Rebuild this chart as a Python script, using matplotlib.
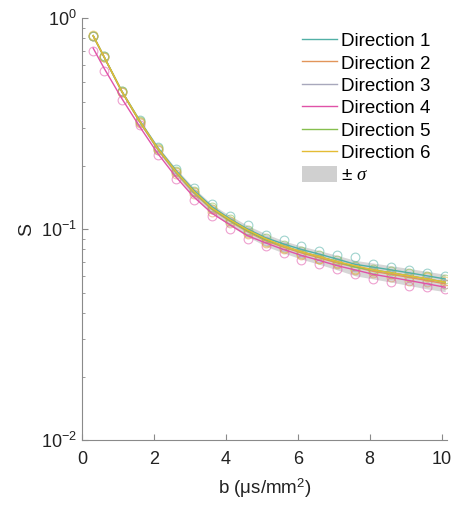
import matplotlib
matplotlib.use("Agg")
import matplotlib.pyplot as plt
from matplotlib.patches import Patch
from matplotlib.lines import Line2D
from matplotlib.ticker import LogLocator, NullFormatter

plt.rcParams["font.family"] = ["Liberation Sans", "DejaVu Sans"]
plt.rcParams["mathtext.fontset"] = "custom"
plt.rcParams["mathtext.rm"] = "Liberation Sans"
plt.rcParams["mathtext.it"] = "Liberation Serif:italic"

# b values (us/mm^2)
b = [0.3, 0.6, 1.1, 1.6, 2.1, 2.6, 3.1, 3.6, 4.1, 4.6, 5.1,
     5.6, 6.1, 6.6, 7.1, 7.6, 8.1, 8.6, 9.1, 9.6, 10.1]

# fitted curves per direction
fit1 = [0.826, 0.658, 0.450, 0.326, 0.243, 0.190, 0.153, 0.128, 0.112, 0.100, 0.091,
        0.085, 0.080, 0.076, 0.072, 0.068, 0.066, 0.064, 0.062, 0.060, 0.058]
fit2 = [0.822, 0.654, 0.446, 0.321, 0.238, 0.185, 0.148, 0.124, 0.109, 0.097, 0.088,
        0.082, 0.077, 0.073, 0.069, 0.066, 0.063, 0.061, 0.059, 0.057, 0.055]
fit3 = [0.824, 0.655, 0.447, 0.322, 0.239, 0.186, 0.149, 0.125, 0.110, 0.098, 0.089,
        0.083, 0.078, 0.074, 0.070, 0.066, 0.064, 0.062, 0.060, 0.058, 0.056]
fit4 = [0.720, 0.580, 0.415, 0.305, 0.228, 0.177, 0.142, 0.119, 0.105, 0.093, 0.086,
        0.080, 0.075, 0.071, 0.067, 0.064, 0.061, 0.059, 0.057, 0.055, 0.053]
fit5 = [0.824, 0.656, 0.448, 0.323, 0.240, 0.187, 0.150, 0.125, 0.110, 0.098, 0.089,
        0.083, 0.078, 0.074, 0.070, 0.066, 0.064, 0.062, 0.060, 0.058, 0.056]
fit6 = [0.826, 0.657, 0.449, 0.324, 0.241, 0.188, 0.151, 0.126, 0.111, 0.099, 0.090,
        0.083, 0.078, 0.074, 0.070, 0.067, 0.064, 0.062, 0.060, 0.058, 0.056]

# measured signal per direction
sig1 = [0.818, 0.662, 0.452, 0.330, 0.246, 0.192, 0.156, 0.131, 0.115, 0.104, 0.094,
        0.089, 0.083, 0.079, 0.075, 0.074, 0.068, 0.066, 0.064, 0.062, 0.060]
sig2 = [0.826, 0.650, 0.444, 0.318, 0.236, 0.183, 0.146, 0.121, 0.107, 0.095, 0.086,
        0.080, 0.075, 0.072, 0.068, 0.064, 0.062, 0.059, 0.057, 0.056, 0.055]
sig3 = [0.820, 0.654, 0.446, 0.322, 0.238, 0.186, 0.149, 0.124, 0.108, 0.097, 0.088,
        0.082, 0.077, 0.073, 0.069, 0.066, 0.063, 0.061, 0.059, 0.057, 0.055]
sig4 = [0.700, 0.560, 0.410, 0.310, 0.225, 0.172, 0.138, 0.115, 0.100, 0.090, 0.083,
        0.077, 0.071, 0.068, 0.065, 0.061, 0.058, 0.056, 0.054, 0.053, 0.052]
sig5 = [0.825, 0.658, 0.450, 0.325, 0.242, 0.189, 0.151, 0.127, 0.111, 0.099, 0.091,
        0.084, 0.079, 0.075, 0.071, 0.067, 0.065, 0.063, 0.062, 0.060, 0.058]
sig6 = [0.830, 0.655, 0.447, 0.321, 0.239, 0.186, 0.149, 0.124, 0.109, 0.096, 0.087,
        0.081, 0.076, 0.072, 0.069, 0.065, 0.063, 0.061, 0.059, 0.059, 0.057]

# +/- sigma band
band_lo = [0.812, 0.645, 0.439, 0.315, 0.233, 0.180, 0.143, 0.119, 0.104, 0.092, 0.083,
           0.077, 0.072, 0.068, 0.064, 0.060, 0.058, 0.056, 0.054, 0.052, 0.0505]
band_hi = [0.835, 0.666, 0.456, 0.330, 0.247, 0.194, 0.157, 0.131, 0.116, 0.104, 0.095,
           0.088, 0.083, 0.079, 0.075, 0.071, 0.069, 0.067, 0.065, 0.063, 0.061]

labels = ["Direction 1", "Direction 2", "Direction 3",
          "Direction 4", "Direction 5", "Direction 6"]
fits = [fit1, fit2, fit3, fit4, fit5, fit6]
sigs = [sig1, sig2, sig3, sig4, sig5, sig6]
colors = ["#52b0a6", "#e2955a", "#a8a8bc", "#e052a8", "#86bf4e", "#e4bc34"]

fig = plt.figure(figsize=(4.68, 5.07), dpi=100)
ax = fig.add_axes([0.176, 0.132, 0.779, 0.8325])

ax.fill_between(b, band_lo, band_hi, color="#d6d6d6", lw=0, zorder=1)
for s, c in zip(sigs, colors):
    ax.plot(b, s, "o", ms=6.3, mfc="none", mec=c, mew=0.8, alpha=0.55, zorder=2)
for f, c in zip(fits, colors):
    ax.plot(b, f, "-", color=c, lw=1.0, zorder=3)

ax.set_yscale("log")
ax.set_xlim(0, 10.15)
ax.set_ylim(1e-2, 1)
ax.set_xticks([0, 2, 4, 6, 8, 10])
ax.yaxis.set_major_locator(LogLocator(base=10, numticks=5))
ax.yaxis.set_minor_locator(LogLocator(base=10, subs=range(2, 10), numticks=20))
ax.yaxis.set_minor_formatter(NullFormatter())

for side in ["top", "right"]:
    ax.spines[side].set_visible(False)
for side in ["left", "bottom"]:
    ax.spines[side].set_color("#8a8a8a")
    ax.spines[side].set_linewidth(0.8)
ax.tick_params(which="both", direction="in", color="#8a8a8a", labelsize=13,
               labelcolor="#222222")
ax.tick_params(which="major", length=4)
ax.tick_params(which="minor", length=2.5)
ax.tick_params(axis="x", pad=8)
ax.tick_params(axis="y", pad=4)

ax.set_xlabel("b (μs/mm$^2$)", fontsize=13.5, color="#222222", labelpad=6)
ax.set_ylabel("S", fontsize=14, color="#222222", labelpad=4)

handles = [Line2D([0], [0], color=c, lw=1.0) for c in colors]
handles.append(Patch(facecolor="#d0d0d0", edgecolor="none"))
fig.legend(handles, labels + ["± $\\sigma$"], loc="upper left",
           bbox_to_anchor=(0.645, 0.937), frameon=False, fontsize=13.5,
           handlelength=1.9, handletextpad=0.2, labelspacing=0.22,
           handleheight=0.9, borderpad=0, borderaxespad=0)

fig.savefig("out.png", dpi=100)
